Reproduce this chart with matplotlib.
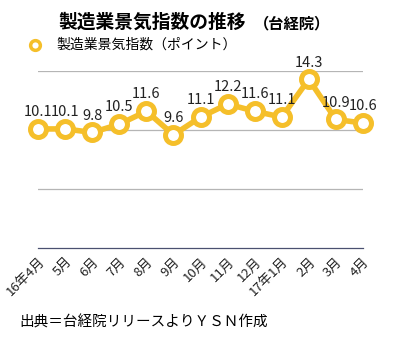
import matplotlib.pyplot as plt

plt.rcParams['font.family'] = ['Noto Sans CJK JP', 'DejaVu Sans']

months = ['16年4月', '5月', '6月', '7月', '8月', '9月', '10月', '11月',
          '12月', '17年1月', '2月', '3月', '4月']
values = [10.1, 10.1, 9.8, 10.5, 11.6, 9.6, 11.1, 12.2, 11.6, 11.1, 14.3, 10.9, 10.6]
labels = ['10.1', '10.1', '9.8', '10.5', '11.6', '9.6', '11.1', '12.2',
          '11.6', '11.1', '14.3', '10.9', '10.6']

gold = '#F5BF2A'

fig = plt.figure(figsize=(3.94, 3.4), dpi=100)
ax = fig.add_axes([0.097, 0.27, 0.824, 0.521])

x = range(len(values))
ax.plot(x, values, color=gold, lw=4, marker='o', ms=11.5, mfc='white',
        mec=gold, mew=3.6, zorder=3, clip_on=False)

for i, (v, t) in enumerate(zip(values, labels)):
    ax.annotate(t, (i, v), xytext=(0, 7), textcoords='offset points',
                ha='center', va='bottom', fontsize=10.5, color='#222222')

ax.set_ylim(0, 15)
ax.set_xlim(0, 12)
ax.set_yticks([5, 10, 15])
ax.yaxis.grid(True, color='#b5b5b5', lw=0.9)
ax.set_axisbelow(True)
ax.tick_params(axis='y', left=False, labelleft=False)
ax.tick_params(axis='x', length=0, pad=5)
for s in ['top', 'right', 'left']:
    ax.spines[s].set_visible(False)
ax.spines['bottom'].set_color('#4a5070')
ax.spines['bottom'].set_linewidth(0.9)

ax.set_xticks(list(x))
ax.set_xticklabels(months, rotation=45, ha='right', rotation_mode='anchor',
                   fontsize=9.5, color='#222222')

fig.text(0.147, 0.935, '製造業景気指数の推移', fontsize=13.5, fontweight='bold',
         va='center', ha='left')
fig.text(0.645, 0.932, '（台経院）', fontsize=11, fontweight='bold',
         va='center', ha='left')

fig.lines.append(plt.Line2D([0.089], [0.868], marker='o', ms=7, mfc='white',
                            mec=gold, mew=2.5, transform=fig.transFigure))
fig.text(0.142, 0.868, '製造業景気指数（ポイント）', fontsize=10, va='center', ha='left')

fig.text(0.05, 0.052, '出典＝台経院リリースよりＹＳＮ作成', fontsize=10.5,
         va='center', ha='left')

fig.savefig('out.png', dpi=100)
